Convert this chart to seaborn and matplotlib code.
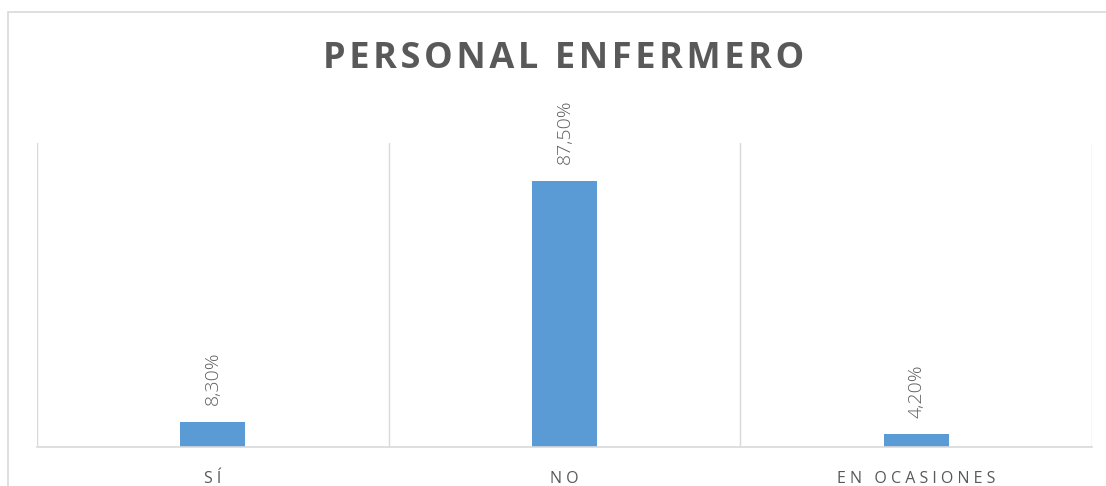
import matplotlib
matplotlib.use("Agg")
import matplotlib.pyplot as plt
import seaborn as sns
import pandas as pd
import numpy as np
from matplotlib.patches import Rectangle
from matplotlib.ticker import FixedLocator

categories = ["SÍ", "NO", "EN OCASIONES"]
values = [8.3, 87.5, 4.2]
value_labels = ["8,30%", "87,50%", "4,20%"]
title = "PERSONAL ENFERMERO"

sns.set_style("white")
plt.rcParams["font.family"] = ["Open Sans", "DejaVu Sans"]

GRAY = "#595959"
LABEL_GRAY = "#5f5f5f"
LINE = "#D9D9D9"
BLUE = "#5B9BD5"

df = pd.DataFrame({"cat": categories, "val": values})

fig = plt.figure(figsize=(11.06, 4.86), dpi=100)
ax = fig.add_axes([37/1106, 1 - 447/486, (1092 - 37)/1106, (447 - 143)/486])

sns.barplot(data=df, x="cat", y="val", color=BLUE, width=0.185, ax=ax,
            saturation=1, edgecolor="none")

ax.set_ylim(0, 100)
ax.set_xlim(-0.5, len(categories) - 0.5)
ax.set_yticks([])
ax.set_xlabel("")
ax.set_ylabel("")

ax.set_xticks(range(len(categories)))
ax.set_xticklabels([" ".join(list(c)) for c in categories],
                   color=GRAY, fontsize=11.5)
ax.tick_params(axis="x", length=0, pad=17)

ax.xaxis.set_minor_locator(FixedLocator(np.arange(-0.5, len(categories), 1.0)))
ax.tick_params(axis="x", which="minor", length=0)
ax.grid(which="minor", axis="x", color=LINE, linewidth=1)
ax.grid(which="major", visible=False)

for s in ["top", "left", "right"]:
    ax.spines[s].set_visible(False)
ax.spines["bottom"].set_color(LINE)
ax.spines["bottom"].set_linewidth(1.2)

for i, (v, lab) in enumerate(zip(values, value_labels)):
    ax.annotate(lab, (i, v), xytext=(0, 12), textcoords="offset points",
                rotation=90, ha="center", va="bottom", color=LABEL_GRAY,
                fontsize=14, fontweight="light")

fig.text(564/1106, 1 - 59/486, "\u200a".join(list(title)), ha="center", va="center",
         fontsize=26, fontweight="bold", color=GRAY)

fig.patches.append(Rectangle((8/1106, -0.05), 1.2, 1 - 12/486 + 0.05,
                             transform=fig.transFigure, fill=False,
                             edgecolor=LINE, linewidth=1.2, zorder=-1))

fig.savefig("out.png", dpi=100)
